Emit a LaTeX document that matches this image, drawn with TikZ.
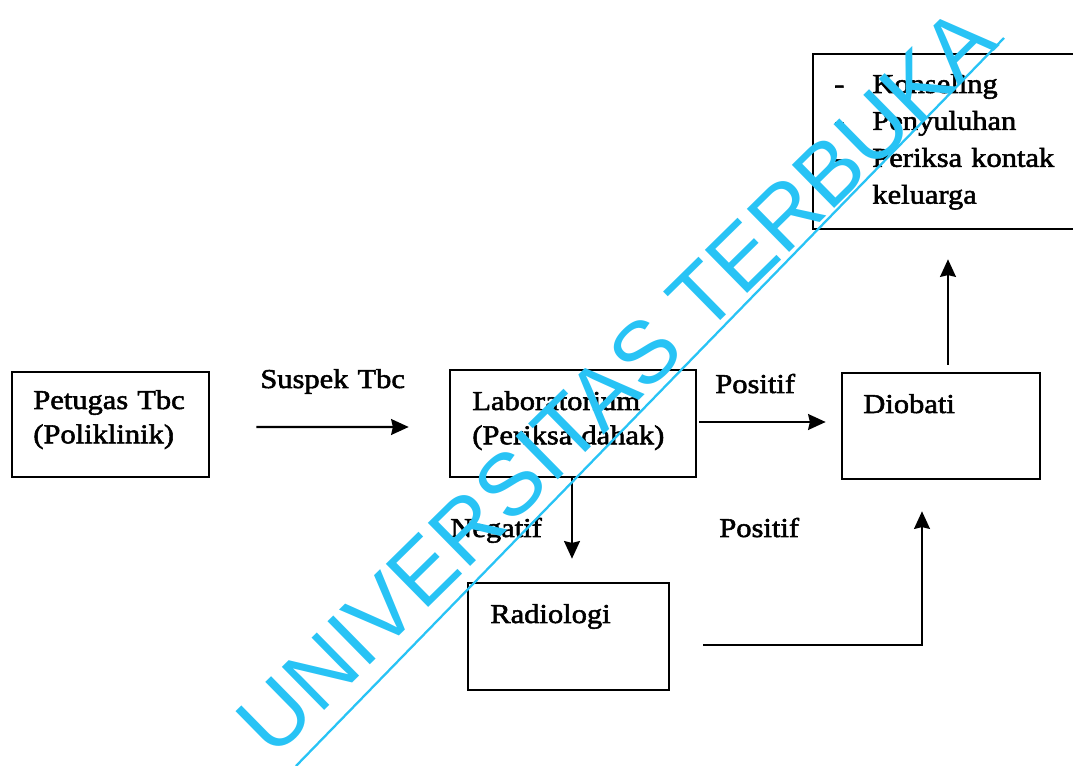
\documentclass[tikz,border=0pt]{standalone}
\usepackage{fontspec}
\setmainfont{Liberation Serif}[FakeStretch=1.12, FakeBold=2]
\newfontfamily\marcafont{Liberation Sans}
\usepackage{xcolor}
\usetikzlibrary{arrows.meta}

\definecolor{celeste}{RGB}{40,195,245}

\tikzset{
    caja/.style={draw, line width=1.5pt, inner sep=0pt},
    texto/.style={anchor=base west, inner sep=0pt, align=left, text width=5cm,
        font=\fontsize{15.5}{19.5}\selectfont},
    flecha/.style={line width=1.3pt, -{Stealth[length=10pt,width=9pt,inset=1pt]}},
}

\begin{document}
\begin{tikzpicture}[x=0.02cm, y=-0.02cm]

    \useasboundingbox (0,0) rectangle (1073,766);
    \clip (0,0) rectangle (1073,766);

    % cajas
    \node[caja, minimum width=3.94cm, minimum height=2.10cm] (petugas) at (110.5,424.5) {};
    \node[caja, minimum width=4.92cm, minimum height=2.14cm] (lab) at (573,423.5) {};
    \node[caja, minimum width=3.96cm, minimum height=2.12cm] (diobati) at (941,426) {};
    \node[caja, minimum width=4.02cm, minimum height=2.14cm] (radiologi) at (568.5,636.5) {};
    \node[caja, minimum width=5.54cm, minimum height=3.50cm] (kegiatan) at (951.5,141.5) {};

    % textos de las cajas
    \node[texto] (t-petugas) at (33,409) {Petugas Tbc\\(Poliklinik)};
    \node[texto] (t-lab) at (472,410) {Laboratorium\\(Periksa dahak)};
    \node[texto] (t-diobati) at (863,413) {Diobati};
    \node[texto] (t-radiologi) at (490,623) {Radiologi};
    \node[texto, text width=1cm, font=\fontsize{15.5}{21}\selectfont] (guiones) at (834,93) {-\\-\\-};
    \node[texto, font=\fontsize{15.5}{21}\selectfont] (lista) at (872,93)
        {Konseling\\Penyuluhan\\Periksa kontak\\keluarga};

    % flechas
    \draw[flecha, shorten <=0.92cm, shorten >=0.8cm]
        ([yshift=-0.05cm]petugas.east) -- ([yshift=-0.07cm]lab.west);
    \draw[flecha, shorten <=0.04cm, shorten >=0.3cm]
        ([yshift=0.03cm]lab.east) -- ([yshift=0.03cm]lab.east -| diobati.west);
    \draw[flecha, shorten >=0.46cm] ([xshift=-0.02cm]lab.south) -- ([xshift=-0.02cm]lab.south |- radiologi.north);
    \draw[flecha, shorten <=0.66cm, shorten >=0.62cm]
        ([yshift=-0.17cm]radiologi.east) -| ([xshift=-0.38cm]diobati.south);
    \draw[flecha, shorten <=0.14cm, shorten >=0.58cm]
        ([xshift=0.14cm]diobati.north) -- ([xshift=0.14cm]diobati.north |- kegiatan.south);

    % leyendas
    \node[texto] (suspek) at (260,388) {Suspek Tbc};
    \node[texto] (positif-a) at (715,393) {Positif};
    \node[texto] (negatif) at (450,537) {Negatif};
    \node[texto] (positif-b) at (719,537) {Positif};

    % marca de agua
    \node[text=celeste, inner sep=0pt, rotate=44.5, font=\marcafont\fontsize{50}{50}\selectfont]
        (marca) at (616,381) {UNIVERSITAS TERBUKA};
    \coordinate (m-ini) at (296,766);
    \coordinate (m-fin) at (1004,38);
    \draw[celeste, line width=1.3pt] (m-ini) -- (m-fin);

\end{tikzpicture}
\end{document}
